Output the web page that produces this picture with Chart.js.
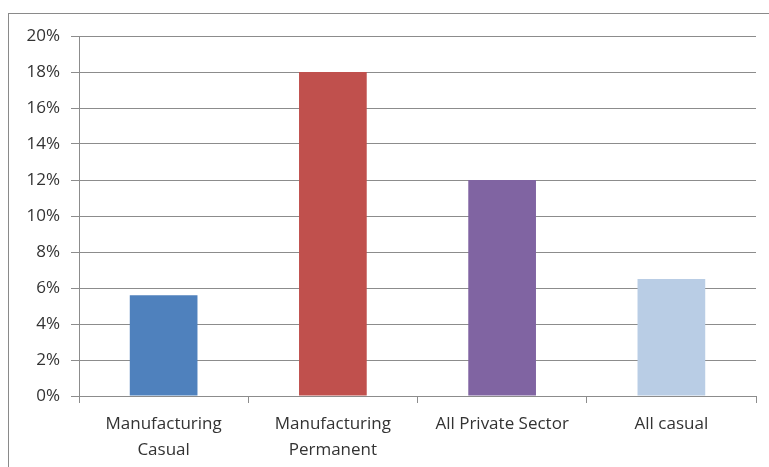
<!DOCTYPE html>
<html>
<head>
<meta charset="utf-8">
<script src="https://cdn.jsdelivr.net/npm/chart.js@4/dist/chart.umd.min.js"></script>
<style>
  html, body { margin: 0; padding: 0; background: #fff; }
  #wrap { position: relative; width: 769px; height: 467px; overflow: hidden; }
  #frame { position: absolute; left: 8px; top: 13px; width: 800px; height: 500px; border: 1px solid #8a8a8a; }
  #chart { position: absolute; left: 0; top: 0; }
</style>
</head>
<body>
<div id="wrap">
  <div id="frame"></div>
  <canvas id="chart" width="769" height="467"></canvas>
</div>
<script>
  const categories = [
    ["Manufacturing", "Casual"],
    ["Manufacturing", "Permanent"],
    "All Private Sector",
    "All casual",
  ];
  const shares = [0.056, 0.18, 0.12, 0.065];
  const barColors = ["#4F81BD", "#C0504D", "#8064A2", "#B9CDE5"];
  const yMax = 0.2;
  const yStep = 0.02;

  const gridGray = "#8c8c8c";
  const textColor = "#333333";

  Chart.defaults.font.family = "Open Sans, sans-serif";
  Chart.defaults.font.size = 17;
  Chart.defaults.color = textColor;

  new Chart(document.getElementById("chart"), {
    type: "bar",
    data: {
      labels: categories,
      datasets: [
        {
          data: shares,
          backgroundColor: barColors,
          borderWidth: 0,
          categoryPercentage: 1,
          barPercentage: 0.4,
        },
      ],
    },
    options: {
      responsive: false,
      animation: false,
      layout: { padding: { top: 36, right: 13, left: 0, bottom: 0 } },
      plugins: { legend: { display: false }, tooltip: { enabled: false } },
      scales: {
        x: {
          offset: true,
          border: { color: gridGray, width: 1 },
          grid: {
            offset: true,
            drawOnChartArea: false,
            drawTicks: true,
            tickLength: 7,
            color: gridGray,
          },
          ticks: { padding: 8, font: { lineHeight: 1.55 }, maxRotation: 0 },
          afterFit: (s) => { s.height = 71; },
        },
        y: {
          min: 0,
          max: yMax,
          border: { color: gridGray, width: 1 },
          grid: { color: gridGray, tickLength: 8 },
          ticks: {
            stepSize: yStep,
            padding: 11,
            callback: (v) => Math.round(v * 100) + "%",
          },
          afterFit: (s) => { s.width = 79; },
        },
      },
    },
  });
</script>
</body>
</html>
